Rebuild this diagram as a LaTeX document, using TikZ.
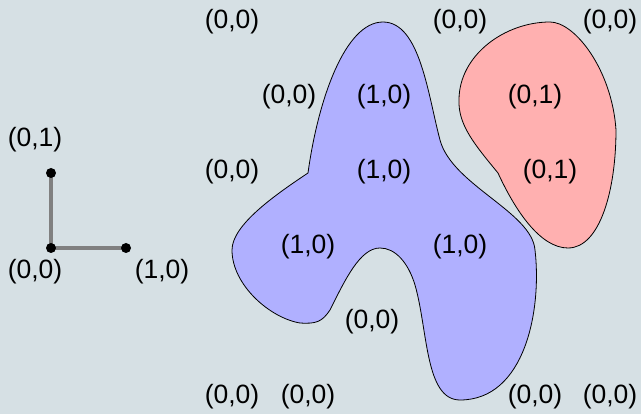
\documentclass[tikz,border=0pt]{standalone}
\usepackage{fontspec}
\setmainfont{Liberation Sans}
\definecolor{bgcol}{HTML}{D6E0E4}
\definecolor{bluefill}{HTML}{B0B0FF}
\definecolor{redfill}{HTML}{FFB0B0}
\tikzset{
  lbl/.style={inner sep=0pt, font=\fontsize{26.5}{30}\selectfont},
  dot/.style={circle, fill=black, inner sep=0pt, minimum size=10pt},
  axis/.style={draw=gray, line width=4pt},
  blob/.style={draw=black, line width=0.8pt},
}

\begin{document}
\begin{tikzpicture}[x=1pt, y=-1pt]
  % canvas (pixel-like units, y pointing down)
  \fill[bgcol] (0,0) rectangle (641,414);
  \useasboundingbox (0,0) rectangle (641,414);

  % basis vectors
  \coordinate (o) at (51,248);
  \coordinate (ex) at (126,248);
  \coordinate (ey) at (51,173);
  \draw[axis] (o) -- (ex);
  \draw[axis] (o) -- (ey);
  \node[dot] (odot) at (o) {};
  \node[dot] (exdot) at (ex) {};
  \node[dot] (eydot) at (ey) {};
  \node[lbl] (lo) at (35,272) {(0,0)};
  \node[lbl] (lx) at (162,272) {(1,0)};
  \node[lbl] (ly) at (35,140) {(0,1)};

  % blue region
  \path[blob, fill=bluefill] (308,173)
    .. controls (318,100) and (345,22) .. (383,22)
    .. controls (420,22) and (428,95) .. (440,140)
    .. controls (452,185) and (532,212) .. (535,250)
    .. controls (542,310) and (525,400) .. (460,400)
    .. controls (425,400) and (428,330) .. (415,285)
    .. controls (408,262) and (395,248) .. (380,248)
    .. controls (360,248) and (345,280) .. (330,310)
    .. controls (322,322) and (316,324) .. (300,323)
    .. controls (270,318) and (232,285) .. (232,250)
    .. controls (232,225) and (275,195) .. (308,173) -- cycle;

  % red region
  \path[blob, fill=redfill] (498,173)
    .. controls (475,145) and (458,125) .. (459,100)
    .. controls (459,55) and (505,22) .. (550,22)
    .. controls (575,22) and (612,70) .. (616,130)
    .. controls (616,190) and (600,248) .. (568,248)
    .. controls (540,248) and (515,210) .. (498,173) -- cycle;

  % row 1
  \node[lbl] (a1) at (232,22) {(0,0)};
  \node[lbl] (a3) at (460,22) {(0,0)};
  \node[lbl] (a5) at (610,22) {(0,0)};
  % row 2
  \node[lbl] (b1) at (289,97) {(0,0)};
  \node[lbl] (b2) at (384,97) {(1,0)};
  \node[lbl] (b3) at (535,97) {(0,1)};
  % row 3
  \node[lbl] (c1) at (232,172) {(0,0)};
  \node[lbl] (c2) at (384,172) {(1,0)};
  \node[lbl] (c3) at (550,172) {(0,1)};
  % row 4
  \node[lbl] (d1) at (308,247) {(1,0)};
  \node[lbl] (d2) at (460,247) {(1,0)};
  % row 5
  \node[lbl] (e1) at (372,322) {(0,0)};
  % row 6
  \node[lbl] (f1) at (232,397) {(0,0)};
  \node[lbl] (f2) at (308,397) {(0,0)};
  \node[lbl] (f3) at (535,397) {(0,0)};
  \node[lbl] (f4) at (610,397) {(0,0)};
\end{tikzpicture}
\end{document}
